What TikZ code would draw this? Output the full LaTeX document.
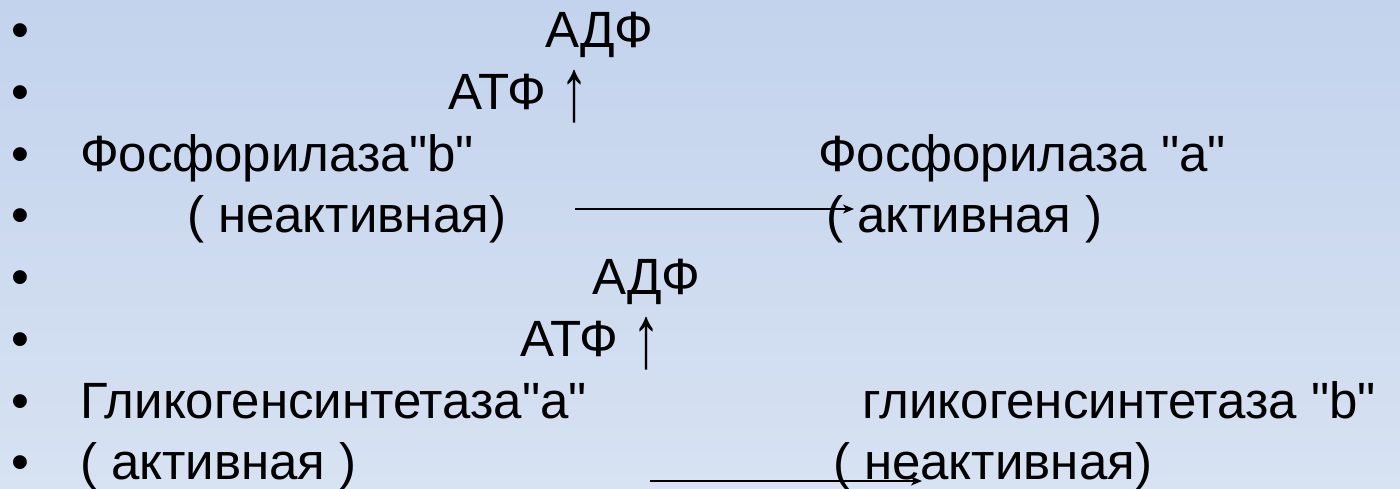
\documentclass[tikz,border=0pt]{standalone}
\usepackage{fontspec}
\setmainfont{Liberation Sans}[Ligatures=TeXOff]
\usetikzlibrary{arrows.meta}

\definecolor{bgtop}{RGB}{195,211,237}
\definecolor{bgbottom}{RGB}{215,226,242}

% straight double quote and a tall thin up arrow
\newcommand{\dq}{\symbol{34}}
\newcommand{\uparr}{\raisebox{-11pt}{\scalebox{1.1}[1.75]{↑}}}

\tikzset{
  txt/.style={anchor=base west, inner sep=0pt, outer sep=0pt,
              font=\fontsize{51}{60}\selectfont, text=black},
  bul/.style={txt},
  conv/.style={draw=black, line width=1.6pt,
               -{Stealth[length=11pt,width=9pt,inset=3pt]}}
}

\begin{document}
\begin{tikzpicture}[x=1pt,y=-1pt]
  % slide background
  \shade[top color=bgtop, bottom color=bgbottom] (0,0) rectangle (1400,488);
  \useasboundingbox (0,0) rectangle (1400,488);

  % bullets
  \foreach \yy [count=\i] in {47,109,171,232,294,356,418,479}
    \node[bul] (b\i) at (11,\yy) {•};

  % phosphorylase
  \node[txt] (adp1) at (545,47) {АДФ};
  \node[txt] (atp1) at (448,109) {АТФ \uparr};
  \node[txt] (phb)  at (80,171) {Фосфорилаза\dq b\dq};
  \node[txt] (pha)  at (818,171) {Фосфорилаза \dq a\dq};
  \node[txt] (phbn) at (187,232) {( неактивная)};
  \node[txt] (phaa) at (826,232) {( активная )};

  % glycogen synthase
  \node[txt] (adp2) at (592,294) {АДФ};
  \node[txt] (atp2) at (520,356) {АТФ \uparr};
  \node[txt] (gsa)  at (80,418) {Гликогенсинтетаза\dq a\dq};
  \node[txt] (gsb)  at (862,418) {гликогенсинтетаза \dq b\dq};
  \node[txt] (gsaa) at (80,479) {( активная )};
  \node[txt] (gsbn) at (833,479) {( неактивная)};

  % conversion arrows
  \coordinate (c1s) at (575,209);
  \coordinate (c1e) at (854,209);
  \coordinate (c2s) at (650,481);
  \coordinate (c2e) at (922,481);
  \draw[conv] (c1s) -- (c1e);
  \draw[conv] (c2s) -- (c2e);
\end{tikzpicture}
\end{document}
